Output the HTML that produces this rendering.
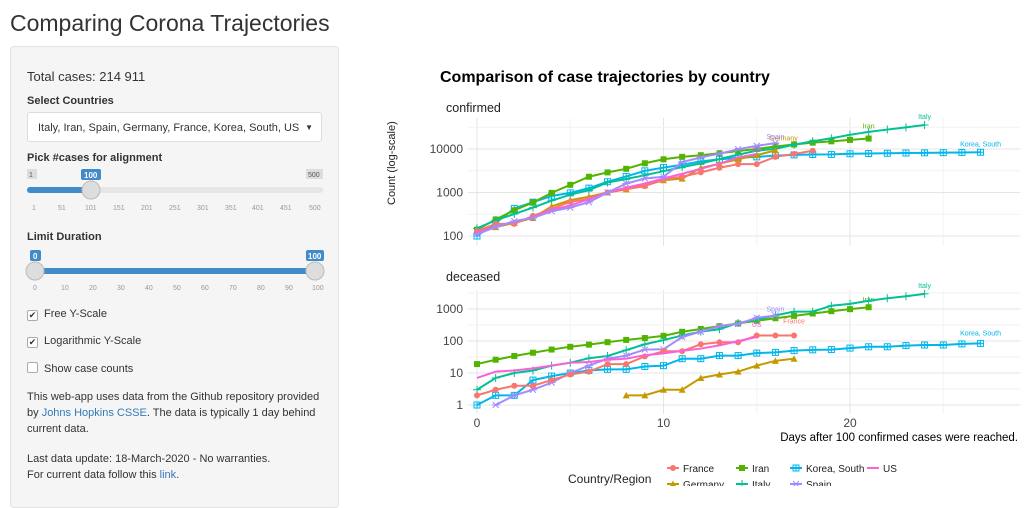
<!DOCTYPE html>
<html><head><meta charset="utf-8"><style>
body{margin:0;width:1024px;height:486px;overflow:hidden;background:#fff;font-family:"Liberation Sans",sans-serif;color:#333;position:relative}
h1{position:absolute;left:10px;top:10px;margin:0;font-size:23px;font-weight:normal;color:#333}
.well{position:absolute;left:10px;top:46px;width:327px;height:460px;background:#f5f5f5;border:1px solid #e3e3e3;border-radius:4px}
.a{position:absolute;font-size:13px}
.b{font-weight:bold;font-size:11px}
.sel{position:absolute;left:16px;top:65px;width:295px;height:30px;background:#fff;border:1px solid #ddd;border-radius:3px;font-size:11px;line-height:30px;padding-left:10px;box-sizing:border-box}
.cb{display:inline-block;width:9px;height:9px;border:1px solid #aaa;background:#fff;border-radius:2px;vertical-align:-1px;margin-right:6px;font-size:9px;line-height:9px;text-align:center}
.lk{color:#337ab7}
</style></head><body>
<h1>Comparing Corona Trajectories</h1>
<div class="well">
<div class="a" style="left:16px;top:22px;font-size:13px">Total cases: 214 911</div>
<div class="a b" style="left:16px;top:48px">Select Countries</div>
<div class="sel">Italy, Iran, Spain, Germany, France, Korea, South, US <span style="position:absolute;right:8px;font-size:8px">▼</span></div>
<div class="a b" style="left:16px;top:105px">Pick #cases for alignment</div>
<div class="a b" style="left:16px;top:184px">Limit Duration</div>
<svg style="position:absolute;left:0;top:0" width="327" height="260">
<g font-family="Liberation Sans" font-size="7" fill="#999">
<rect x="16" y="122" width="10" height="10" fill="#ddd"/><text x="18" y="130" fill="#555">1</text>
<rect x="295" y="122" width="17" height="10" fill="#ddd"/><text x="297" y="130" fill="#555">500</text>
<rect x="70" y="122" width="20" height="11" fill="#428bca" rx="2"/><text x="73" y="131" fill="#fff" font-weight="bold" font-size="8">100</text>
<rect x="16" y="140" width="296" height="6" rx="3" fill="#e6e6e6"/>
<rect x="16" y="140" width="64" height="6" rx="3" fill="#428bca"/>
<circle cx="80" cy="143" r="9" fill="#ddd" stroke="#bbb"/>
<text x="21" y="163">1</text><text x="47" y="163">51</text><text x="74" y="163">101</text><text x="102" y="163">151</text><text x="130" y="163">201</text><text x="158" y="163">251</text><text x="186" y="163">301</text><text x="214" y="163">351</text><text x="241" y="163">401</text><text x="269" y="163">451</text><text x="298" y="163">500</text>
<rect x="19" y="203" width="11" height="11" fill="#428bca" rx="2"/><text x="22" y="212" fill="#fff" font-weight="bold" font-size="8">0</text>
<rect x="295" y="203" width="18" height="11" fill="#428bca" rx="2"/><text x="297" y="212" fill="#fff" font-weight="bold" font-size="8">100</text>
<rect x="24" y="221" width="280" height="6" fill="#428bca"/>
<circle cx="24" cy="224" r="9" fill="#ddd" stroke="#bbb"/><circle cx="304" cy="224" r="9" fill="#ddd" stroke="#bbb"/>
<text x="22" y="243">0</text><text x="50" y="243">10</text><text x="78" y="243">20</text><text x="106" y="243">30</text><text x="134" y="243">40</text><text x="162" y="243">50</text><text x="190" y="243">60</text><text x="218" y="243">70</text><text x="246" y="243">80</text><text x="274" y="243">90</text><text x="301" y="243">100</text>
</g></svg>
<div class="a" style="left:16px;top:261px;font-size:11px"><span class="cb">✔</span>Free Y-Scale</div>
<div class="a" style="left:16px;top:288px;font-size:11px"><span class="cb">✔</span>Logarithmic Y-Scale</div>
<div class="a" style="left:16px;top:315px;font-size:11px"><span class="cb"></span>Show case counts</div>
<div class="a" style="left:16px;top:342px;font-size:11px;line-height:16px;width:300px">This web-app uses data from the Github repository provided by <span class="lk">Johns Hopkins CSSE</span>. The data is typically 1 day behind current data.</div>
<div class="a" style="left:16px;top:404px;font-size:11px;line-height:16px;width:300px">Last data update: 18-March-2020 - No warranties.<br>For current data follow this <span class="lk">link</span>.</div>
</div>
<svg id="ch" style="position:absolute;left:0;top:0" width="1024" height="486" font-family="'Liberation Sans Narrow','Liberation Sans',sans-serif"></svg>
<script>
const s=document.getElementById('ch');let h='';
const X=d=>477+d*18.65;
const Yc=v=>236-(Math.log10(v)-2)*43.5, Yd=v=>405-Math.log10(v)*32;
h+='<text x="440" y="82" font-size="16" font-weight="bold" fill="#000">Comparison of case trajectories by country</text>';
h+='<text x="446" y="112" font-size="12.5" fill="#222">confirmed</text><text x="446" y="281" font-size="12.5" fill="#222">deceased</text>';
h+='<text transform="translate(395,205) rotate(-90)" font-size="11" fill="#222">Count (log-scale)</text>';
function grid(y0,y1,Y,maj,mins){
 for(let d=0;d<=27;d+=5){h+=`<line x1="${X(d)}" x2="${X(d)}" y1="${y0}" y2="${y1}" stroke="${d%10?'#f2f2f2':'#e5e5e5'}"/>`;}
 mins.forEach(v=>h+=`<line x1="468" x2="1020" y1="${Y(v)}" y2="${Y(v)}" stroke="#f2f2f2"/>`);
 maj.forEach(v=>h+=`<line x1="468" x2="1020" y1="${Y(v)}" y2="${Y(v)}" stroke="#e5e5e5"/><text x="463" y="${Y(v)+4}" text-anchor="end" font-size="12" fill="#444">${v}</text>`);
}
grid(118,246,Yc,[100,1000,10000],[316,3162,31623]);
grid(290,414,Yd,[1,10,100,1000],[3.16,31.6,316,3162]);
[0,10,20].forEach(d=>h+=`<text x="${X(d)}" y="427" text-anchor="middle" font-size="12" fill="#444">${d}</text>`);
h+='<text x="1018" y="441" text-anchor="end" font-size="11.5" fill="#000">Days after 100 confirmed cases were reached.</text>';
const C={France:'#F8766D',Germany:'#C49A00',Iran:'#53B400',Italy:'#00C094',Korea:'#00B6EB',Spain:'#A58AFF',US:'#FB61D7'};
const M={France:'c',Germany:'t',Iran:'s',Italy:'p',Korea:'b',Spain:'x',US:''};
function mk(t,x,y,c){
 if(t=='c')return `<circle cx="${x}" cy="${y}" r="3" fill="${c}"/>`;
 if(t=='t')return `<path d="M${x-3.5} ${y+3}L${x+3.5} ${y+3}L${x} ${y-3.5}Z" fill="${c}"/>`;
 if(t=='s')return `<rect x="${x-3}" y="${y-3}" width="6" height="6" fill="${c}"/>`;
 if(t=='p')return `<path d="M${x-4} ${y}H${x+4}M${x} ${y-4}V${y+4}" stroke="${c}"/>`;
 if(t=='b')return `<rect x="${x-3}" y="${y-3}" width="6" height="6" fill="none" stroke="${c}"/><path d="M${x-3} ${y}H${x+3}M${x} ${y-3}V${y+3}" stroke="${c}"/>`;
 if(t=='x')return `<path d="M${x-3} ${y-3}L${x+3} ${y+3}M${x-3} ${y+3}L${x+3} ${y-3}M${x-4} ${y}H${x+4}" stroke="${c}"/>`;
 return '';
}
function ser(n,data,Y,start,lab,lo){
 let c=C[n],pts=[];
 data.forEach((v,i)=>{if(v==null)return;pts.push([X(start+i),Y(v)]);});
 h+=`<polyline points="${pts.map(q=>q.join(',')).join(' ')}" fill="none" stroke="${c}" stroke-width="2"/>`;
 pts.forEach(q=>h+=mk(M[n],q[0],q[1],c));
 if(lab){const q=pts[pts.length-1];h+=`<text x="${q[0]+(lo?lo[0]:0)}" y="${q[1]+(lo?lo[1]:-6)}" text-anchor="middle" font-size="7" fill="${c}">${lab}</text>`;}
}
const conf={
Korea:[100,200,430,600,830,980,1260,1770,2340,3150,3740,4340,5190,5770,6280,6590,7040,7310,7480,7510,7760,7870,7980,8090,8160,8230,8320,8410],
Iran:[140,240,390,590,980,1500,2300,2900,3500,4700,5800,6600,7200,8000,9000,10000,11400,12700,14000,15000,16200,17400],
Italy:[150,230,320,450,650,890,1130,1700,2040,2500,3090,3860,4640,5880,7380,9170,10100,12500,15100,17700,21200,24700,27980,31500,35700],
Germany:[130,160,200,260,480,670,800,1000,1180,1460,1910,2080,3680,4600,5800,7200,9300],
France:[130,190,190,290,420,610,710,1000,1200,1400,2000,2300,2900,3700,4500,4500,6600,7700,9100],
US:[120,160,220,260,400,500,700,1000,1300,1600,2100,2700,3500,4600,6400,7700],
Spain:[110,160,220,260,370,450,600,1000,1600,2100,2300,5000,6400,7800,9900,11800,13700]};
ser('Korea',conf.Korea,Yc,0,'Korea, South',[0,-6]);
ser('Iran',conf.Iran,Yc,0,'Iran',[0,-10]);
ser('Italy',conf.Italy,Yc,0,'Italy');
ser('Germany',conf.Germany,Yc,0,'Germany',[8,-10]);
ser('France',conf.France,Yc,0,'');
ser('US',conf.US,Yc,0,'US',[0,-2]);
ser('Spain',conf.Spain,Yc,0,'Spain',[0,-4]);
ser('Korea',[1,2,2,6,8,10,12,13,13,16,17,28,28,35,35,42,44,50,53,54,60,66,66,72,75,75,81,84],Yd,0,'Korea, South',[0,-8]);
ser('Iran',[19,26,34,43,54,66,77,92,108,124,145,194,237,291,354,429,514,611,724,853,988,1135],Yd,0,'Iran',[0,-5]);
ser('Italy',[3,7,10,12,17,21,29,34,52,79,107,148,197,233,366,463,631,827,827,1266,1441,1809,2158,2503,2978],Yd,0,'Italy');
ser('Spain',[null,1,2,3,5,10,17,28,35,54,55,133,195,289,342,533,623],Yd,0,'Spain',[0,-4]);
ser('Germany',[2,2,3,3,7,9,11,17,24,28],Yd,8,'');
ser('France',[2,3,4,4,6,9,11,19,19,33,48,48,79,91,91,148,148,148],Yd,0,'France',[0,-12]);
ser('US',[7,11,12,14,17,21,22,26,28,36,41,49,58,73,99,133],Yd,0,'US',[0,-10]);
h+='<text x="568" y="483" font-size="12" fill="#222">Country/Region</text>';
[['France',667,472],['Germany',667,488],['Iran',736,472],['Italy',736,488],['Korea',790,472],['Spain',790,488],['US',867,472]].forEach(([n,x,y])=>{
 const c=C[n];h+=`<line x1="${x}" x2="${x+12}" y1="${y-4}" y2="${y-4}" stroke="${c}" stroke-width="2"/>`+mk(M[n],x+6,y-4,c);
 h+=`<text x="${x+16}" y="${y}" font-size="10" fill="#222">${n=='Korea'?'Korea, South':n}</text>`;});
s.innerHTML=h;
</script>
</body></html>
